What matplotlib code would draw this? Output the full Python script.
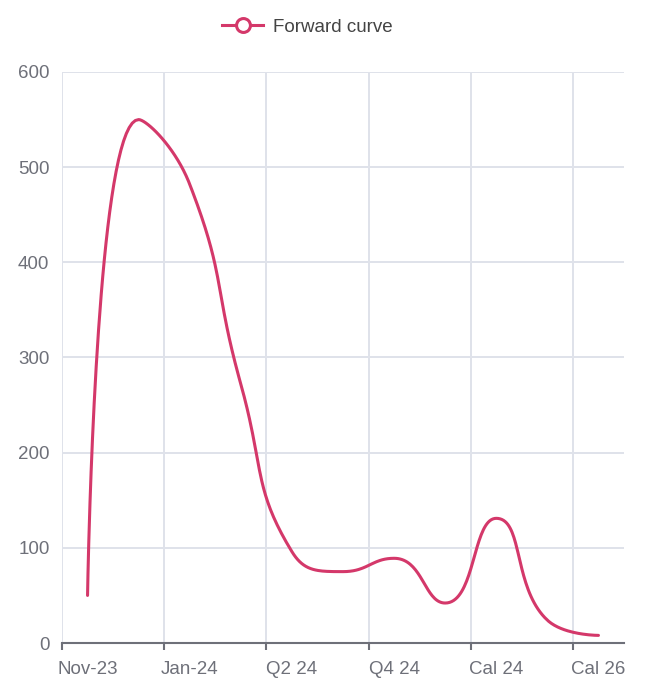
import numpy as np
import matplotlib
matplotlib.use("Agg")
import matplotlib.pyplot as plt
from matplotlib.lines import Line2D

plt.rcParams['font.family'] = ['Liberation Sans', 'DejaVu Sans']

# data
categories = ["Nov-23", "Dec-23", "Jan-24", "Feb-24", "Q2 24", "Q3 24",
              "Q4 24", "Q1 25", "Cal 24", "Cal 25", "Cal 26"]
values = [50, 550, 482, 272, 96, 75, 89, 42, 131, 24, 8]
y_ticks = [0, 100, 200, 300, 400, 500, 600]

LINE_COLOR = "#d4386a"
GRID_COLOR = "#dfe2ea"
AXIS_COLOR = "#6e7079"
TEXT_COLOR = "#6e7079"


def smooth_path(ax, xs, ys, smooth=0.5, steps=40):
    # echarts style bezier smoothing (with extreme constraint), in display space
    pts = ax.transData.transform(np.column_stack([xs, ys]))
    n = len(pts)
    t = np.linspace(0, 1, steps)[:, None]
    out = [pts[:1]]
    cp0 = pts[0].copy()
    for i in range(1, n):
        p, prev = pts[i], pts[i - 1]
        if i == n - 1:
            cp1 = p.copy()
            next_cp0 = p.copy()
        else:
            nxt = pts[i + 1]
            v = nxt - prev
            len_prev = np.hypot(*(p - prev))
            len_next = np.hypot(*(nxt - p))
            r = len_next / (len_next + len_prev)
            next_cp0 = p + v * smooth * r
            next_cp0 = np.clip(next_cp0, np.minimum(nxt, p), np.maximum(nxt, p))
            v = next_cp0 - p
            cp1 = p - v * len_prev / len_next
            cp1 = np.clip(cp1, np.minimum(prev, p), np.maximum(prev, p))
            v = p - cp1
            next_cp0 = p + v * len_next / len_prev
        seg = ((1 - t) ** 3) * prev + 3 * ((1 - t) ** 2) * t * cp0 \
            + 3 * (1 - t) * t ** 2 * cp1 + t ** 3 * p
        out.append(seg[1:])
        cp0 = next_cp0
    out = np.vstack(out)
    return ax.transData.inverted().transform(out)


fig = plt.figure(figsize=(6.48, 6.87), dpi=100)
ax = fig.add_axes([62 / 648, 1 - 643 / 687, (624 - 62) / 648, (643 - 72) / 687])

x = np.arange(len(categories))
ax.set_xlim(-0.5, len(categories) - 0.5)
ax.set_ylim(0, 600)

# grid
for yt in y_ticks[1:]:
    ax.axhline(yt, color=GRID_COLOR, lw=1.4, zorder=0)
bounds = np.arange(-0.5, len(categories) - 0.5, 2)
for b in bounds:
    ax.axvline(b, color=GRID_COLOR, lw=1.4, zorder=0)

fig.canvas.draw()
curve = smooth_path(ax, x, values)
ax.plot(curve[:, 0], curve[:, 1], color=LINE_COLOR, lw=2.2,
        solid_capstyle='round', solid_joinstyle='round', zorder=3, clip_on=False)

for s in ["top", "right", "left"]:
    ax.spines[s].set_visible(False)
ax.spines["bottom"].set_color(AXIS_COLOR)
ax.spines["bottom"].set_linewidth(1.5)

ax.set_yticks(y_ticks)
ax.tick_params(axis="y", length=0, pad=9, labelsize=13.5, labelcolor=TEXT_COLOR)

ax.set_xticks(bounds)
ax.set_xticklabels([])
ax.tick_params(axis="x", length=5, width=1.5, color=AXIS_COLOR)
for i in range(0, len(categories), 2):
    ax.text(x[i], -0.047, categories[i], transform=ax.get_xaxis_transform(),
            ha="center", va="center", fontsize=13.5, color=TEXT_COLOR)

handle = Line2D([], [], color=LINE_COLOR, lw=2.2, marker="o", markersize=10,
                markerfacecolor="white", markeredgecolor=LINE_COLOR, markeredgewidth=2.2)
fig.legend([handle], ["Forward curve"], loc="center", bbox_to_anchor=(0.474, 1 - 27 / 687),
           frameon=False, fontsize=13.5, labelcolor="#444444", handlelength=2.2,
           handletextpad=0.5)

fig.savefig("out.png", dpi=100, facecolor="white")
